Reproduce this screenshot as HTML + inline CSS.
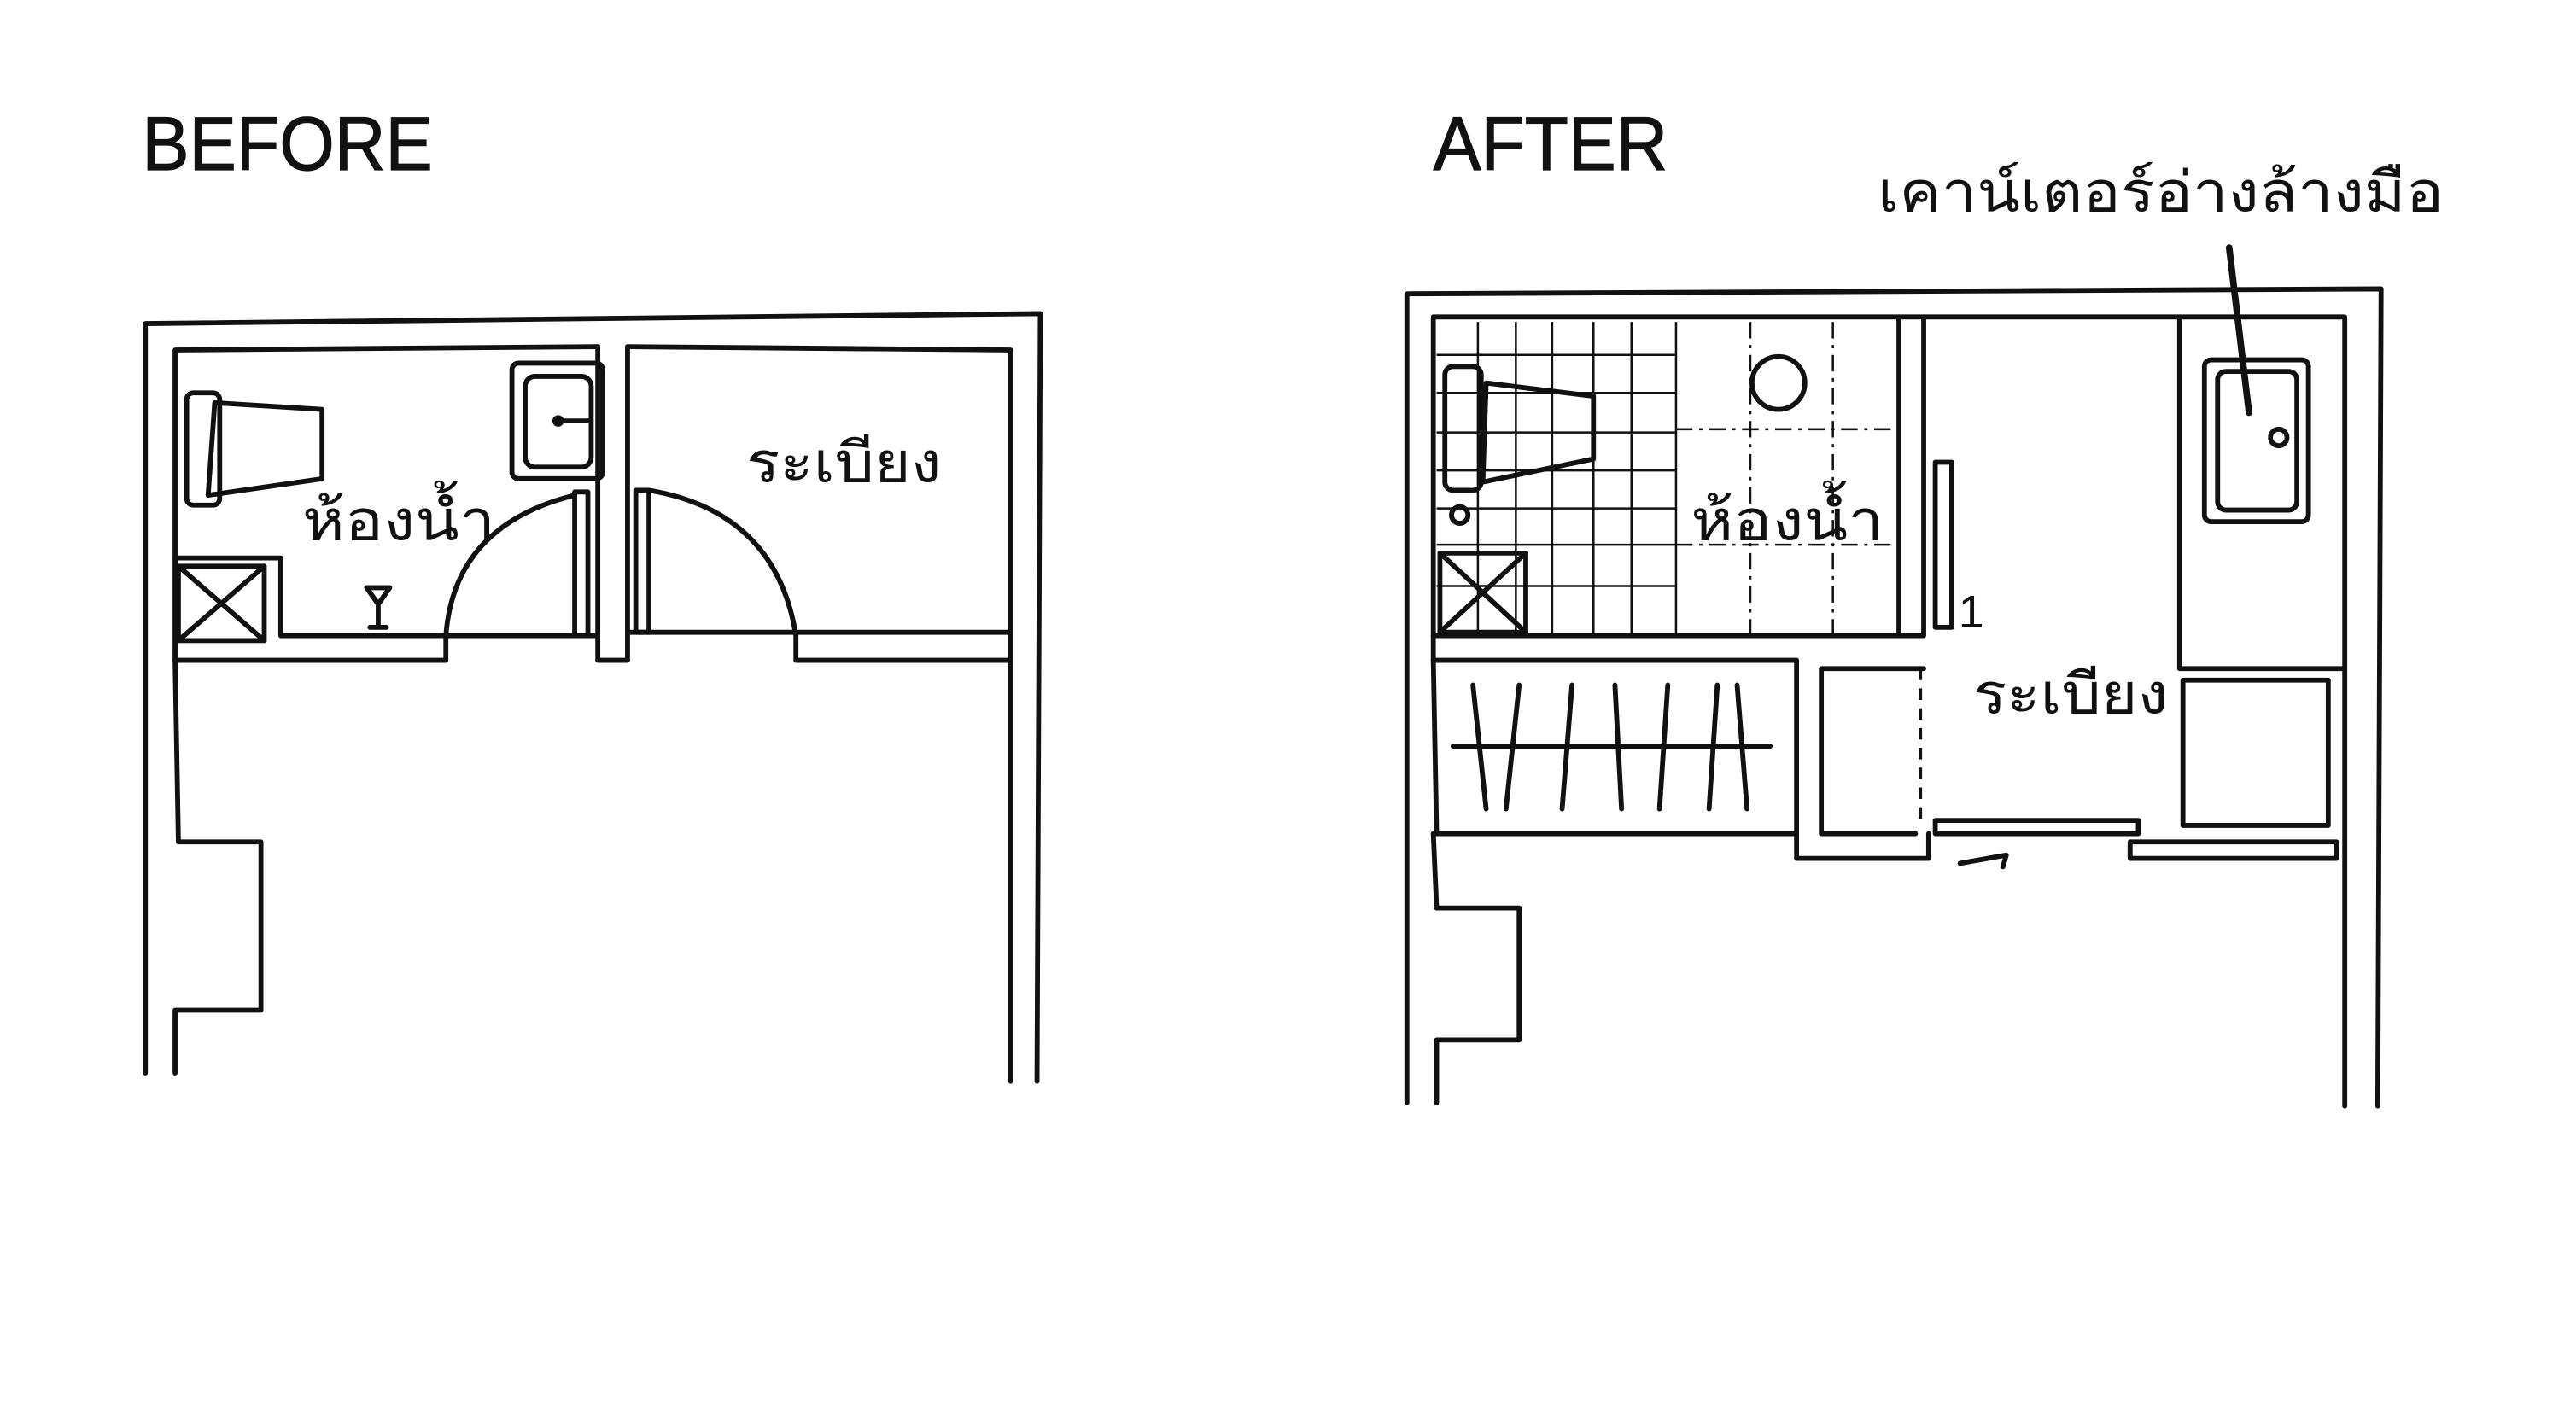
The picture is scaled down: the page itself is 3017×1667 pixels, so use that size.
<!DOCTYPE html>
<html><head><meta charset="utf-8"><style>
html,body{margin:0;padding:0;background:#fff;}
svg{display:block;}
text{font-family:"Liberation Sans","DejaVu Sans","Noto Sans CJK SC",sans-serif;fill:#111;}
</style></head><body>
<svg width="3017" height="1667" viewBox="0 0 1560 862" xmlns="http://www.w3.org/2000/svg">
<rect width="1560" height="862" fill="#fff"/>
<g stroke="#111" stroke-width="3" fill="none" stroke-linecap="round" stroke-linejoin="round">
<!-- BEFORE -->
<path d="M88,650 L88,196 L630,190 L628,655"/>
<path d="M612,655 L612,212 L380,210 M362,210 L106,212 L106,400 M106,400 L108,510 L158,510 L158,612 L106,612 L106,650"/>
<path d="M362,210 L362,400 L380,400 L380,210"/>
<path d="M106,400 L270,400 L270,385 M170,385 L170,338 L106,338 M170,385 L362,385"/>
<path d="M380,383 L612,383 M482,385 L482,400 L612,400"/>
<rect x="108" y="343" width="52" height="45"/>
<path d="M108,343 L160,388 M160,343 L108,388"/>
<path d="M195,248 L130,244 L126,300 L195,290 Z"/>
<rect x="113" y="238" width="20" height="68" rx="4"/>
<rect x="310" y="220" width="55" height="70" rx="4"/>
<rect x="318" y="228" width="40" height="55" rx="6"/>
<circle cx="338" cy="255" r="2"/>
<path d="M338,255 L358,255"/>
<path d="M222,356 L236,356 L229,366 Z M229,366 L229,380 M224,380 L234,380"/>
<rect x="348" y="298" width="8" height="87"/>
<path d="M270,385 Q275,318 348,300"/>
<rect x="385" y="297" width="8" height="86"/>
<path d="M393,297 Q470,310 482,385"/>
<!-- AFTER -->
<path d="M852,668 L852,178 L1442,175 L1440,670"/>
<path d="M1420,670 L1420,192 L868,192 L868,400 L870,505 M868,505 L870,550 L920,550 L920,630 L870,630 L870,668"/>
<path d="M868,385 L1150,385 L1150,192 M1165,192 L1165,385 L1150,385"/>
<path d="M868,400 L1088,400 L1088,505 M868,505 L1088,505 L1088,520 L1168,520 L1168,505 M1103,405 L1165,405 M1103,405 L1103,505 L1160,505"/>
<path d="M1320,192 L1320,405 L1420,405 M1322,412 L1410,412 L1410,500 L1322,500 Z"/>
<rect x="1335" y="218" width="63" height="98" rx="4"/>
<rect x="1343" y="225" width="48" height="84" rx="5"/>
<circle cx="1380" cy="265" r="5"/>
<path d="M1290,510 L1415,510 L1415,520 L1290,520 Z"/>
<path d="M1172,497 L1295,497 L1295,505 L1172,505 Z"/>
<path d="M1187,523 L1215,518 L1213,525"/>
<rect x="1172" y="280" width="10" height="100"/>
<rect x="872" y="335" width="52" height="48"/>
<path d="M872,335 L924,383 M924,335 L872,383"/>
<path d="M965,240 L900,232 L898,292 L965,278 Z"/>
<rect x="875" y="222" width="22" height="75" rx="5"/>
<circle cx="884" cy="312" r="5"/>
<circle cx="1077" cy="232" r="16"/>
<path d="M880,452 L1072,452"/>
<path d="M892,415 L900,490 M920,415 L912,490 M952,415 L946,490 M978,415 L982,490 M1010,415 L1005,490 M1040,415 L1035,490 M1052,415 L1058,490"/>
<path d="M1350,150 L1362,250" stroke-width="4"/>
</g>
<g stroke="#111" stroke-width="1.3" fill="none">
<path d="M870,215 H1015 M870,238 H1015 M870,262 H1015 M870,285 H1015 M870,308 H1015 M870,330 H1015 M870,355 H1015"/>
<path d="M895,195 V385 M918,195 V385 M940,195 V385 M965,195 V385 M988,195 V385 M1015,195 V385"/>
<path d="M1015,260 H1150 M1015,330 H1150 M1060,195 V385 M1110,195 V385" stroke-dasharray="10,4,2,4"/>
</g>
<g stroke="#111" stroke-width="2" fill="none" stroke-dasharray="7,5">
<path d="M872,505 L1086,505"/>
<path d="M1163,405 L1163,500"/>
</g>
<text x="86" y="103" font-size="46" textLength="176" lengthAdjust="spacingAndGlyphs" stroke="#111" stroke-width="0.6">BEFORE</text>
<text x="868" y="103" font-size="46" textLength="142" lengthAdjust="spacingAndGlyphs" stroke="#111" stroke-width="0.6">AFTER</text>
<text x="183" y="327" font-size="34" textLength="117" lengthAdjust="spacingAndGlyphs">ห้องน้ำ</text>
<text x="452" y="292" font-size="34" textLength="118" lengthAdjust="spacingAndGlyphs">ระเบียง</text>
<text x="1024" y="327" font-size="34" textLength="117" lengthAdjust="spacingAndGlyphs">ห้องน้ำ</text>
<text x="1195" y="432" font-size="34" textLength="118" lengthAdjust="spacingAndGlyphs">ระเบียง</text>
<text x="1186" y="380" font-size="28">1</text>
<text x="1137" y="128" font-size="34" textLength="343" lengthAdjust="spacingAndGlyphs">เคาน์เตอร์อ่างล้างมือ</text>
</svg>
</body></html>
